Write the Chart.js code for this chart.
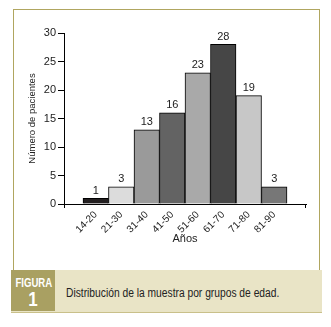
<!DOCTYPE html>
<html><head><meta charset="utf-8">
<script src="https://cdn.jsdelivr.net/npm/chart.js@4/dist/chart.umd.min.js"></script>
<style>
html,body{margin:0;padding:0;background:#fff;width:331px;height:327px;overflow:hidden;}
#frame{position:absolute;left:13px;top:9px;width:307px;height:262px;border:1px solid #b0a660;border-bottom:none;box-sizing:border-box;}
#band{position:absolute;left:11px;top:270px;width:311px;height:42px;background:#e9e4c6;border-bottom:1px solid #c9c08a;}
#fig{position:absolute;left:11px;top:270px;width:44px;height:41px;background:#a9a062;color:#fff;font-family:'Liberation Sans',Arial,sans-serif;font-weight:bold;}
#fig .a{position:absolute;left:0;width:44px;top:7px;font-size:12px;line-height:12px;text-align:center;transform:scaleX(0.8);transform-origin:center;}
#fig .b{position:absolute;left:0;width:44px;top:19px;font-size:20px;line-height:20px;text-align:center;transform:scaleX(0.85);}
#cap{position:absolute;left:66px;top:286px;font-family:'Liberation Sans',Arial,sans-serif;font-size:12px;line-height:14px;color:#222;white-space:nowrap;transform:scaleX(0.855);transform-origin:left center;}
#c{position:absolute;left:0;top:0;}
</style></head>
<body>
<div id="frame"></div>
<div id="band"></div>
<div id="fig"><div class="a">FIGURA</div><div class="b">1</div></div>
<div id="cap">Distribución de la muestra por grupos de edad.</div>
<canvas id="c" width="331" height="262"></canvas>
<script>
const categories = ['14-20','21-30','31-40','41-50','51-60','61-70','71-80','81-90'];
const values = [1,3,13,16,23,28,19,3];
const barColors = ['#231f20','#dcdcdc','#9a9a9a','#636363','#a9a9a9','#464646','#c7c7c7','#777777'];
const yTicks = [0,5,10,15,20,25,30];
const FONT = "'Liberation Sans',Arial,sans-serif";

const labelsPlugin = {
  id: 'vlabels',
  afterDatasetsDraw(chart) {
    const ctx = chart.ctx;
    const meta = chart.getDatasetMeta(0);
    ctx.save();
    ctx.font = '11px ' + FONT;
    ctx.fillStyle = '#222';
    ctx.textAlign = 'center';
    ctx.textBaseline = 'bottom';
    meta.data.forEach((bar, i) => {
      ctx.fillText(String(values[i]), bar.x, bar.y - 2);
    });
    const a = chart.chartArea;
    ctx.strokeStyle = '#000';
    ctx.lineWidth = 1;
    ctx.beginPath();
    ctx.moveTo(Math.round(a.left) + 0.5, a.bottom);
    ctx.lineTo(Math.round(a.left) + 0.5, a.bottom + 4);
    ctx.moveTo(Math.round(a.right) - 0.5, a.bottom);
    ctx.lineTo(Math.round(a.right) - 0.5, a.bottom + 4);
    ctx.stroke();
    ctx.restore();
  }
};

new Chart(document.getElementById('c'), {
  type: 'bar',
  data: {
    datasets: [{
      data: values.map((v, i) => ({x: i, y: v})),
      backgroundColor: barColors,
      borderColor: '#000',
      borderWidth: 1,
      barPercentage: 1,
      categoryPercentage: 1
    }]
  },
  options: {
    responsive: false,
    animation: false,
    devicePixelRatio: 1,
    layout: { padding: { left: 0, top: 33, right: 25, bottom: 0 } },
    plugins: { legend: { display: false }, tooltip: { enabled: false } },
    scales: {
      x: {
        type: 'linear',
        offset: false,
        min: -1.245,
        max: 8.245,
        afterBuildTicks: (s) => { s.ticks = categories.map((c, i) => ({value: i})); },
        afterFit: (s) => { s.height = 58; },
        grid: { display: false, drawTicks: false },
        border: { display: true, color: '#000', width: 1 },
        ticks: {
          autoSkip: false,
          minRotation: 45, maxRotation: 45,
          padding: 5,
          color: '#222',
          font: { family: FONT, size: 10 },
          callback: (v) => categories[v] !== undefined ? categories[v] : ''
        },
        title: { display: true, text: 'Años', color: '#222', font: { family: FONT, size: 11 }, padding: { top: 0, bottom: 16 } }
      },
      y: {
        min: 0, max: 30,
        afterBuildTicks: (s) => { s.ticks = yTicks.map(v => ({value: v})); },
        afterFit: (s) => { s.width = 64; },
        grid: { display: true, drawOnChartArea: false, tickLength: 6, color: '#000' },
        border: { display: true, color: '#000', width: 1 },
        ticks: { padding: 2, color: '#222', font: { family: FONT, size: 11 } },
        title: { display: true, text: 'Número de pacientes', color: '#222', font: { family: FONT, size: 9.5 }, padding: { top: 27, bottom: 0 } }
      }
    }
  },
  plugins: [labelsPlugin]
});
</script>
</body></html>
